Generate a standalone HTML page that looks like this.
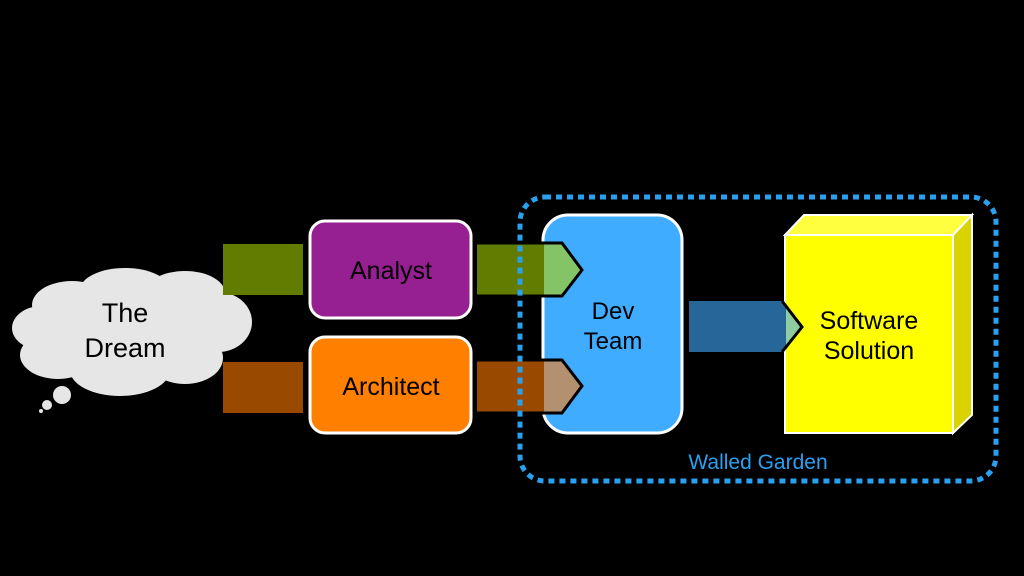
<!DOCTYPE html>
<html><head><style>html,body{margin:0;padding:0;background:#000;width:1024px;height:576px;overflow:hidden}</style></head>
<body>
<svg width="1024" height="576" viewBox="0 0 1024 576" xmlns="http://www.w3.org/2000/svg" font-family="Liberation Sans, sans-serif">
<rect width="1024" height="576" fill="#000"/>
<g fill="#e6e6e6">
<ellipse cx="72" cy="305" rx="40" ry="24"/>
<ellipse cx="125" cy="290" rx="45" ry="22"/>
<ellipse cx="185" cy="293" rx="40" ry="22"/>
<ellipse cx="218" cy="322" rx="34" ry="30"/>
<ellipse cx="185" cy="358" rx="38" ry="26"/>
<ellipse cx="120" cy="370" rx="50" ry="26"/>
<ellipse cx="58" cy="355" rx="38" ry="24"/>
<ellipse cx="42" cy="328" rx="30" ry="22"/>
<ellipse cx="130" cy="330" rx="95" ry="45"/>
<circle cx="62" cy="395" r="9"/>
<circle cx="47" cy="405" r="5"/>
<circle cx="41" cy="411" r="2"/>
</g>
<text x="125" y="322" font-size="27" text-anchor="middle" fill="#000">The</text>
<text x="125" y="357" font-size="27" text-anchor="middle" fill="#000">Dream</text>
<rect x="223" y="244" width="80" height="51" fill="#617c00"/>
<rect x="223" y="362" width="80" height="51" fill="#994a00"/>
<rect x="543" y="215" width="139" height="218" rx="25" fill="#40acff" stroke="#fff" stroke-width="3"/>
<text x="613" y="319" font-size="24" text-anchor="middle" fill="#000">Dev</text>
<text x="613" y="349" font-size="24" text-anchor="middle" fill="#000">Team</text>
<rect x="310" y="221" width="161" height="97" rx="15" fill="#961f91" stroke="#fff" stroke-width="3"/>
<text x="391" y="279" font-size="25" text-anchor="middle" fill="#000">Analyst</text>
<rect x="310" y="337" width="161" height="96" rx="15" fill="#ff7f00" stroke="#fff" stroke-width="3"/>
<text x="391" y="395" font-size="25" text-anchor="middle" fill="#000">Architect</text>
<polygon points="477,243 562,243 582,270 562,296 477,296" fill="#617c00"/>
<polygon points="544,243 562,243 582,270 562,296 544,296" fill="#84c467"/>
<polyline points="477,243 562,243 582,270 562,296 477,296" fill="none" stroke="#000" stroke-width="3"/>
<polygon points="477,360 562,360 582,386 562,413 477,413" fill="#994a00"/>
<polygon points="544,360 562,360 582,386 562,413 544,413" fill="#b39070"/>
<polyline points="477,360 562,360 582,386 562,413 477,413" fill="none" stroke="#000" stroke-width="3"/>
<polygon points="785,235 804,215 972,215 953,235" fill="#ffff40" stroke="#fff" stroke-width="2"/>
<polygon points="953,235 972,215 972,415 953,433" fill="#d9d400" stroke="#fff" stroke-width="2"/>
<rect x="785" y="235" width="168" height="198" fill="#ffff00" stroke="#fff" stroke-width="2"/>
<text x="869" y="329" font-size="25" text-anchor="middle" fill="#000">Software</text>
<text x="869" y="359" font-size="25" text-anchor="middle" fill="#000">Solution</text>
<polygon points="689,301 782,301 802,327 782,352 689,352" fill="#266699"/>
<polygon points="786,303 800,327 786,350" fill="#8fcc9f"/>
<polyline points="782,301 802,327 782,352" fill="none" stroke="#000" stroke-width="3"/>
<rect x="520" y="197" width="476" height="284" rx="25" fill="none" stroke="#2aa0f0" stroke-width="5" stroke-dasharray="6 5"/>
<text x="758" y="469" font-size="21" text-anchor="middle" fill="#2aa0f0">Walled Garden</text>
</svg>
</body></html>
